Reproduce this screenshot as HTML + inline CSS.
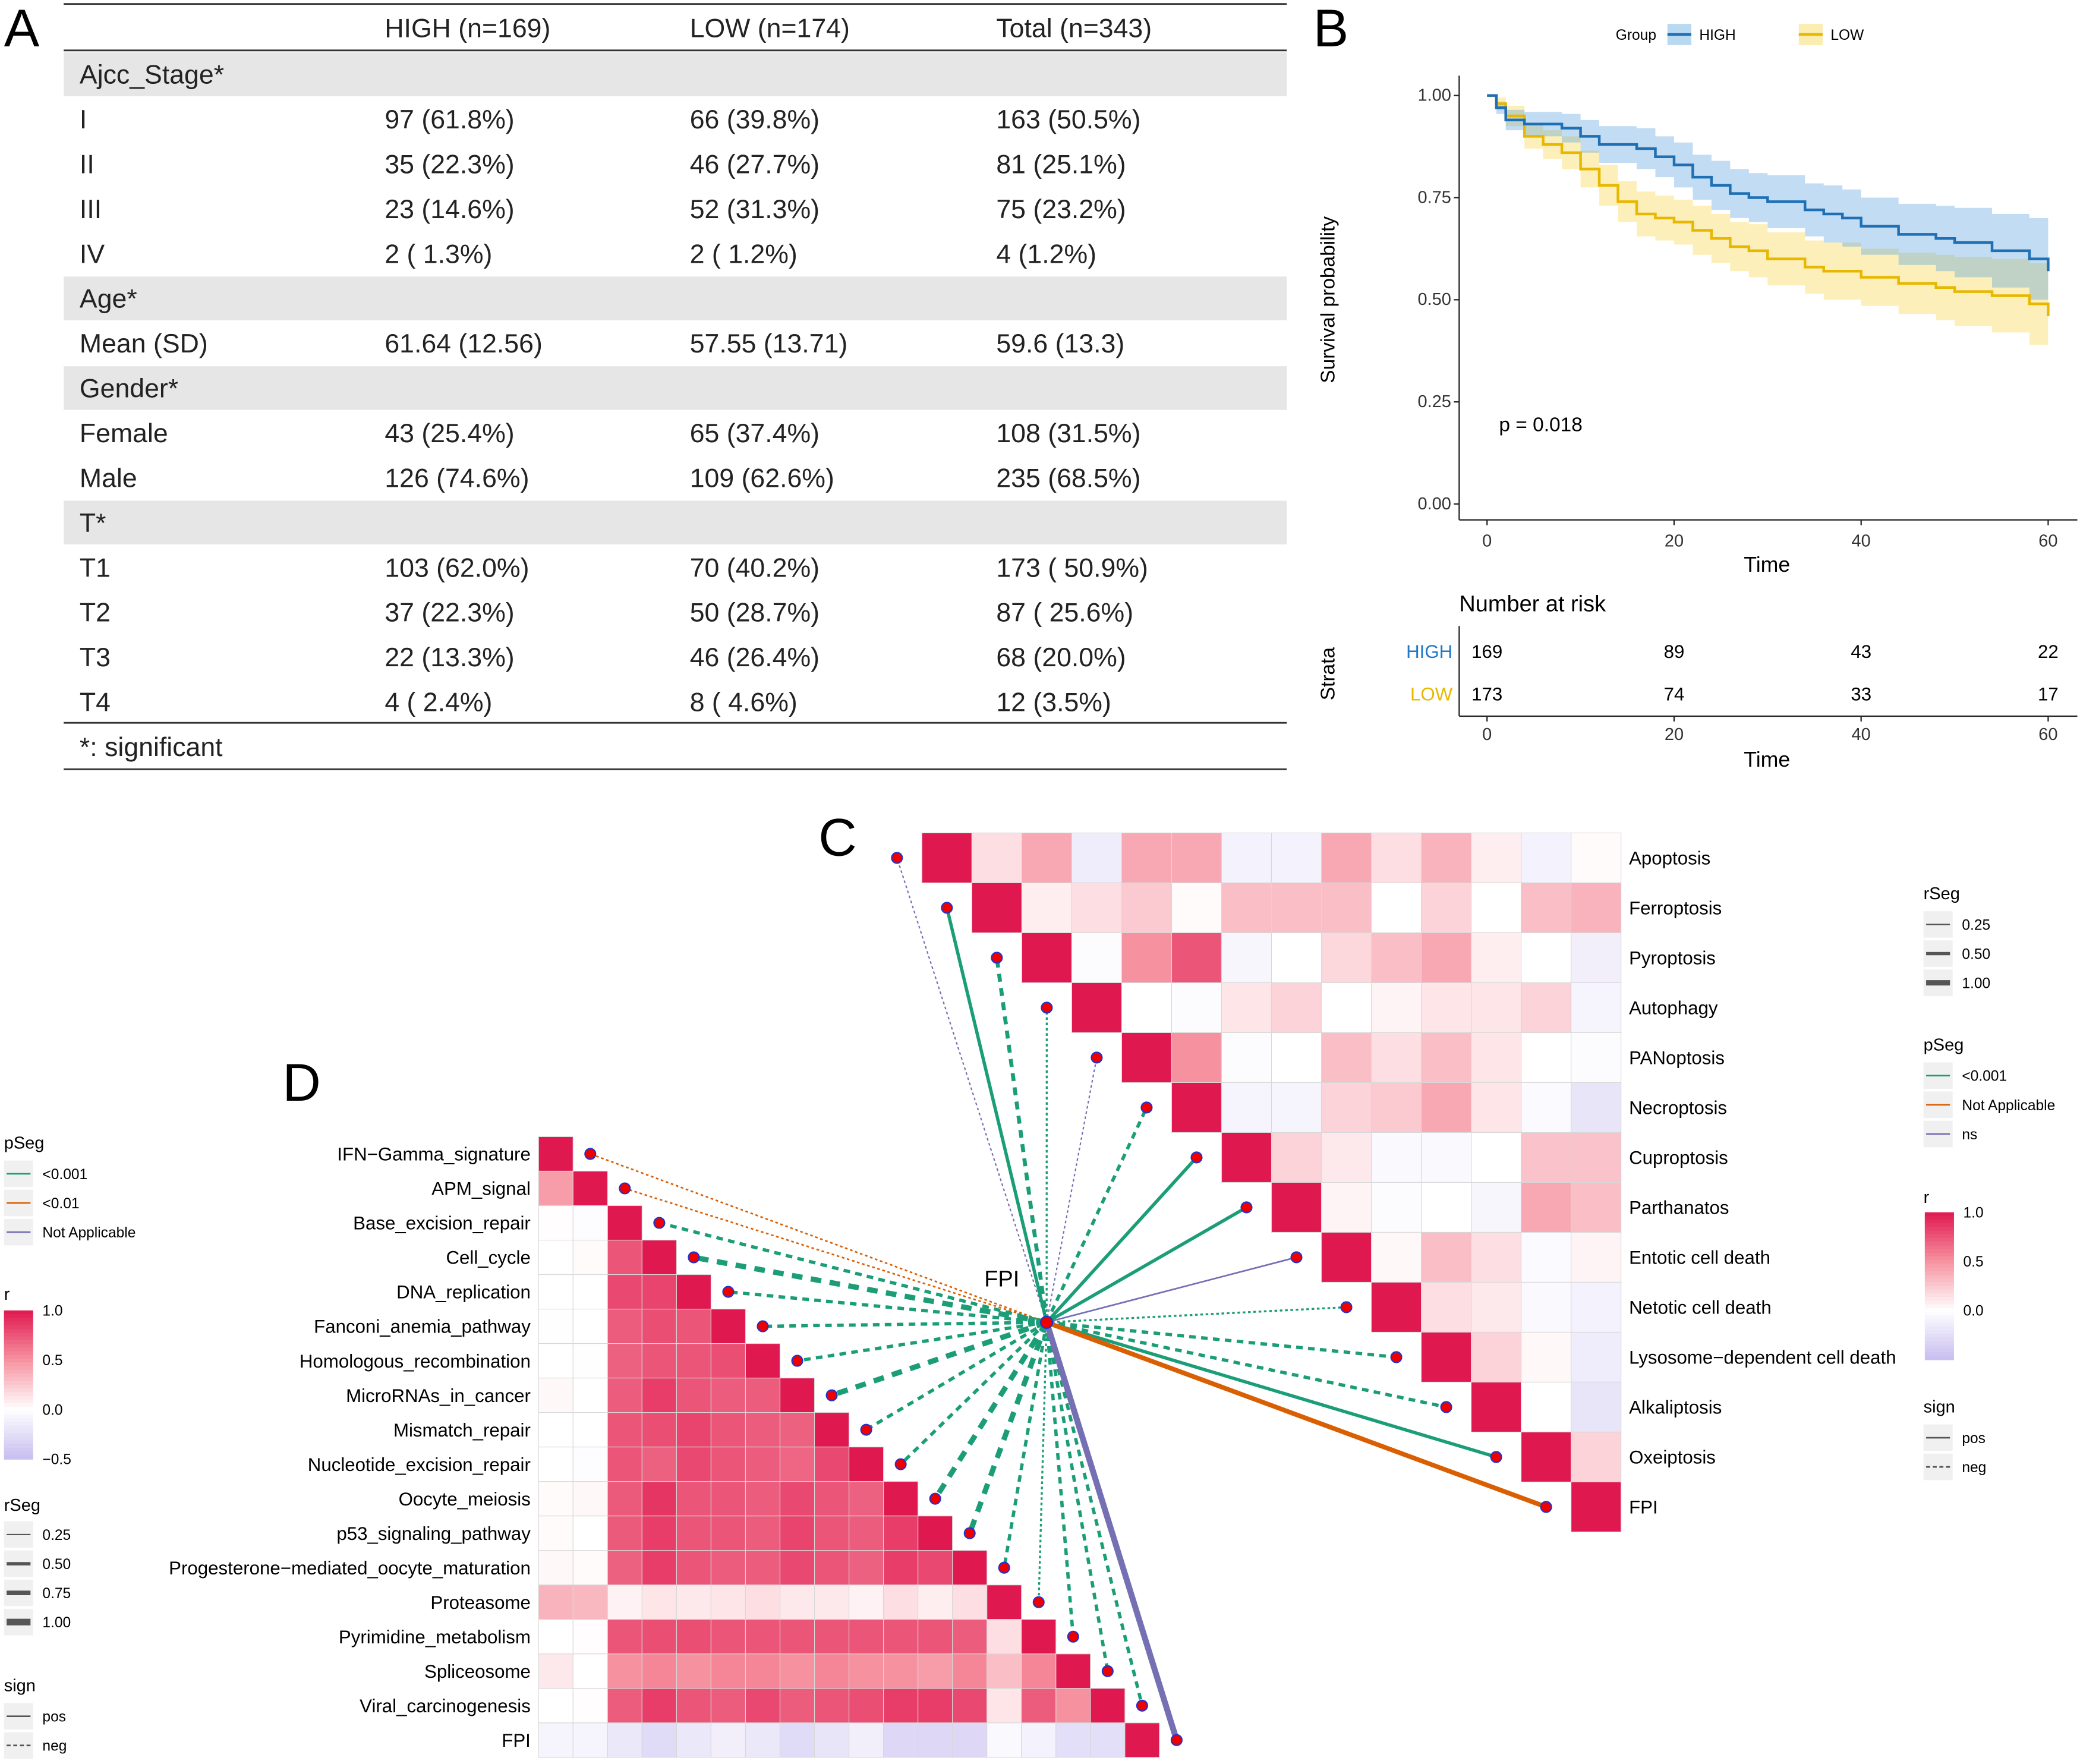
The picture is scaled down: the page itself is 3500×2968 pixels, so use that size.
<!DOCTYPE html>
<html><head><meta charset="utf-8">
<style>
html,body{margin:0;padding:0;background:#fff;}
svg{display:block;font-family:"Liberation Sans",Arial,sans-serif;}
</style></head>
<body>
<svg id="fig" xmlns="http://www.w3.org/2000/svg" width="3500" height="2968" viewBox="0 0 1568 1330" preserveAspectRatio="none">
<rect x="0" y="0" width="1568" height="1330" fill="#fff"/>
<g id="panelA"></g>
<g id="panelB"></g>
<g id="panelC"></g>
<g id="panelD"></g>
</svg>
<script>
// ---------- DATA ----------
const tableHeader = ["HIGH (n=169)","LOW (n=174)","Total (n=343)"];
const tableRows = [
 ["Ajcc_Stage*"],["I","97 (61.8%)","66 (39.8%)","163 (50.5%)"],["II","35 (22.3%)","46 (27.7%)","81 (25.1%)"],
 ["III","23 (14.6%)","52 (31.3%)","75 (23.2%)"],["IV","2 ( 1.3%)","2 ( 1.2%)","4 (1.2%)"],["Age*"],
 ["Mean (SD)","61.64 (12.56)","57.55 (13.71)","59.6 (13.3)"],["Gender*"],["Female","43 (25.4%)","65 (37.4%)","108 (31.5%)"],
 ["Male","126 (74.6%)","109 (62.6%)","235 (68.5%)"],["T*"],["T1","103 (62.0%)","70 (40.2%)","173 ( 50.9%)"],
 ["T2","37 (22.3%)","50 (28.7%)","87 ( 25.6%)"],["T3","22 (13.3%)","46 (26.4%)","68 (20.0%)"],["T4","4 ( 2.4%)","8 ( 4.6%)","12 (3.5%)"]
];
const kmTimes = [0,1,2,4,6,8,10,12,14,16,18,20,22,24,26,28,30,34,36,38,40,44,48,50,54,58,60];
const kmHigh  = [1,0.97,0.94,0.93,0.93,0.92,0.90,0.88,0.88,0.87,0.85,0.83,0.80,0.78,0.76,0.75,0.74,0.72,0.71,0.70,0.68,0.66,0.65,0.64,0.62,0.60,0.57];
const kmLow   = [1,0.98,0.95,0.90,0.88,0.86,0.82,0.78,0.74,0.71,0.70,0.69,0.67,0.65,0.63,0.62,0.60,0.58,0.57,0.57,0.555,0.54,0.53,0.52,0.51,0.49,0.46];
const ciHigh  = [0,0.015,0.025,0.03,0.03,0.035,0.04,0.045,0.045,0.05,0.05,0.055,0.055,0.06,0.06,0.06,0.065,0.065,0.07,0.07,0.07,0.075,0.08,0.085,0.09,0.1,0.11];
const ciLow   = [0,0.015,0.025,0.03,0.035,0.04,0.045,0.05,0.05,0.055,0.055,0.055,0.06,0.06,0.06,0.065,0.065,0.065,0.07,0.07,0.07,0.075,0.08,0.085,0.09,0.1,0.11];
const riskTimes = [0,20,40,60];
const riskHigh = [169,89,43,22];
const riskLow = [173,74,33,17];
const kmYTicks = [0,0.25,0.5,0.75,1];

const cLabels = ["Apoptosis","Ferroptosis","Pyroptosis","Autophagy","PANoptosis","Necroptosis","Cuproptosis","Parthanatos","Entotic cell death","Netotic cell death","Lysosome\u2212dependent cell death","Alkaliptosis","Oxeiptosis","FPI"];
const cMatrix = [
 [1,0.15,0.4,-0.15,0.4,0.4,-0.1,-0.1,0.4,0.15,0.35,0.08,-0.1,0.02],
 [1,0.08,0.15,0.25,0.02,0.3,0.3,0.3,0,0.2,0,0.3,0.35],
 [1,-0.03,0.5,0.75,-0.07,0,0.18,0.3,0.4,0.08,0,-0.12],
 [1,0,-0.03,0.12,0.2,0,0.05,0.12,0.12,0.2,-0.08],
 [1,0.5,-0.03,0,0.3,0.15,0.3,0.12,0,-0.03],
 [1,-0.08,-0.08,0.2,0.25,0.4,0.12,-0.04,-0.2],
 [1,0.2,0.1,-0.05,-0.05,0,0.28,0.28],
 [1,0.05,-0.03,0,-0.07,0.4,0.3],
 [1,0.03,0.3,0.15,-0.04,0.05],
 [1,0.15,0.1,-0.05,-0.1],
 [1,0.2,0.03,-0.15],
 [1,0,-0.2],
 [1,0.2],
 [1]
];
const cLinkP = ["ns","sig","sig","sig","ns","sig","sig","sig","ns","sig","sig","sig","sig","na"];
const cLinkW = [1,2.5,3,1.5,1,2.5,2.5,2.5,1.2,1.5,2.5,2.5,2.5,3.5];
const cLinkSign = ["neg","pos","neg","neg","neg","neg","pos","pos","pos","neg","neg","neg","pos","pos"];

const dLabels = ["IFN\u2212Gamma_signature","APM_signal","Base_excision_repair","Cell_cycle","DNA_replication","Fanconi_anemia_pathway","Homologous_recombination","MicroRNAs_in_cancer","Mismatch_repair","Nucleotide_excision_repair","Oocyte_meiosis","p53_signaling_pathway","Progesterone\u2212mediated_oocyte_maturation","Proteasome","Pyrimidine_metabolism","Spliceosome","Viral_carcinogenesis","FPI"];
const dMatrix = [
 [1],
 [0.45,1],
 [0.01,-0.02,1],
 [0,0.02,0.75,1],
 [0,0,0.8,0.82,1],
 [-0.01,0,0.72,0.78,0.75,1],
 [0,-0.01,0.7,0.75,0.75,0.78,1],
 [0.03,0,0.72,0.85,0.75,0.72,0.72,1],
 [0,0,0.75,0.78,0.82,0.75,0.72,0.7,1],
 [0,-0.02,0.75,0.7,0.8,0.75,0.72,0.68,0.8,1],
 [0.02,0.03,0.73,0.88,0.75,0.75,0.72,0.8,0.75,0.7,1],
 [0.02,0,0.73,0.85,0.75,0.75,0.72,0.82,0.75,0.72,0.85,1],
 [0.03,0.02,0.7,0.85,0.75,0.72,0.72,0.8,0.75,0.7,0.85,0.8,1],
 [0.35,0.33,0.06,0.12,0.1,0.12,0.15,0.1,0.1,0.06,0.15,0.08,0.15,1],
 [0,0.01,0.75,0.78,0.78,0.75,0.75,0.75,0.75,0.75,0.75,0.75,0.72,0.15,1],
 [0.1,0,0.5,0.55,0.5,0.55,0.55,0.5,0.55,0.5,0.5,0.45,0.55,0.3,0.55,1],
 [0,0.01,0.72,0.85,0.75,0.72,0.8,0.72,0.75,0.78,0.85,0.85,0.8,0.12,0.72,0.5,1],
 [-0.08,-0.08,-0.18,-0.28,-0.18,-0.12,-0.18,-0.28,-0.2,-0.12,-0.3,-0.3,-0.3,-0.05,-0.1,-0.25,-0.25,1]
];
const dLinkP = ["o","o","sig","sig","sig","sig","sig","sig","sig","sig","sig","sig","sig","sig","sig","sig","sig","na"];
const dLinkW = [1.2,1.2,2.5,4,2.5,2.5,2.5,4,2.5,2.5,4,4,2.5,1.5,2.5,2.5,2.5,4.5];
const dLinkSign = ["neg","neg","neg","neg","neg","neg","neg","neg","neg","neg","neg","neg","neg","neg","neg","neg","neg","pos"];

// ---------- HELPERS ----------
const NS="http://www.w3.org/2000/svg";
function mk(parent,tag,attrs,text){const e=document.createElementNS(NS,tag);for(const k in attrs)e.setAttribute(k,attrs[k]);if(text!==undefined)e.textContent=text;parent.appendChild(e);return e;}
function lerp(a,b,t){return a.map((v,i)=>Math.round(v+(b[i]-v)*t));}
function rColor(r){
  let c;
  if(r>=0.5){c=lerp([246,146,160],[224,24,80],Math.min((r-0.5)/0.5,1));}
  else if(r>=0){c=lerp([255,255,255],[246,146,160],r/0.5);}
  else {c=lerp([255,255,255],[200,190,240],Math.min(-r/0.5,1));}
  return `rgb(${c[0]},${c[1]},${c[2]})`;
}
const pColor={sig:"#1b9e77",o:"#d95f02",na:"#d95f02",ns:"#7570b3"};
const pColorD={sig:"#1b9e77",o:"#d95f02",na:"#7570b3",ns:"#7570b3"};

// ---------- PANEL A ----------
const A=document.getElementById('panelA');
let t=mk(A,'text',{x:3,y:35,'font-size':40},'A');

const colX=[60,290,520,751];
const rowY0=56, rowH=33.8;
tableHeader.forEach((h,i)=>{const e=mk(A,'text',{x:colX[i+1],y:28,'font-size':20,fill:'#222'},h);
 });
tableRows.forEach((row,i)=>{
  const y=rowY0+i*rowH;
  if(row.length===1){const b=mk(A,'rect',{x:48,y:y-16.5,width:922,height:33,fill:'#e6e6e6'});
   }
  row.forEach((c,j)=>{const e=mk(A,'text',{x:colX[j],y:y+7,'font-size':20,fill:'#222'},c);
   });
});
[3,38,545,580].forEach(y=>{const l=mk(A,'line',{x1:48,x2:970,y1:y,y2:y,stroke:'#333','stroke-width':1.3});
 });
t=mk(A,'text',{x:60,y:570,'font-size':20,fill:'#222'},'*: significant');


// ---------- PANEL B ----------
const B=document.getElementById('panelB');
t=mk(B,'text',{x:990,y:35,'font-size':40},'B');

const kx=v=>1121+v*(1544-1121)/60, ky=v=>380-v*308;
function stepPath(vals){let d=`M${kx(kmTimes[0])},${ky(vals[0])}`;for(let i=1;i<kmTimes.length;i++){d+=`H${kx(kmTimes[i])}V${ky(vals[i])}`;}return d;}
function bandPath(vals,ci){let up=[],lo=[];for(let i=0;i<kmTimes.length;i++){const x0=kx(kmTimes[i]),x1=i<kmTimes.length-1?kx(kmTimes[i+1]):kx(kmTimes[i]);
 up.push(`${x0},${ky(Math.min(1,vals[i]+ci[i]))}`,`${x1},${ky(Math.min(1,vals[i]+ci[i]))}`);lo.push(`${x0},${ky(vals[i]-ci[i])}`,`${x1},${ky(vals[i]-ci[i])}`);}
 return 'M'+up.join('L')+'L'+lo.reverse().join('L')+'Z';}
let p=mk(B,'path',{d:bandPath(kmLow,ciLow),fill:'#f5d03a','fill-opacity':0.35});

p=mk(B,'path',{d:bandPath(kmHigh,ciHigh),fill:'#4f9fdc','fill-opacity':0.35});

p=mk(B,'path',{d:stepPath(kmLow),fill:'none',stroke:'#e8b800','stroke-width':2});

p=mk(B,'path',{d:stepPath(kmHigh),fill:'none',stroke:'#1f6fb5','stroke-width':2});

let l=mk(B,'line',{x1:1100,x2:1100,y1:57,y2:392,stroke:'#222','stroke-width':1});

l=mk(B,'line',{x1:1100,x2:1566,y1:392,y2:392,stroke:'#222','stroke-width':1});

kmYTicks.forEach(v=>{mk(B,'line',{x1:1096,x2:1100,y1:ky(v),y2:ky(v),stroke:'#222'});
 const e=mk(B,'text',{x:1094,y:ky(v)+4,'font-size':13,'text-anchor':'end',fill:'#333'},v.toFixed(2));
 });
riskTimes.forEach(v=>{mk(B,'line',{x1:kx(v),x2:kx(v),y1:392,y2:396,stroke:'#222'});
 const e=mk(B,'text',{x:kx(v),y:412,'font-size':13,'text-anchor':'middle',fill:'#333'},v);
 });
t=mk(B,'text',{x:1332,y:431,'font-size':16,'text-anchor':'middle'},'Time');
t=mk(B,'text',{x:0,y:0,'font-size':15,'text-anchor':'middle',transform:'translate(1006,226) rotate(-90)'},'Survival probability');
t=mk(B,'text',{x:1130,y:325,'font-size':15},'p = 0.018');
t=mk(B,'text',{x:1218,y:30,'font-size':11},'Group');
let g=mk(B,'g',{});
mk(g,'rect',{x:1257,y:18,width:18,height:16,fill:'#4f9fdc','fill-opacity':0.4});mk(g,'line',{x1:1257,x2:1275,y1:26,y2:26,stroke:'#1f6fb5','stroke-width':2});mk(g,'text',{x:1281,y:30,'font-size':11},'HIGH');
g=mk(B,'g',{});
mk(g,'rect',{x:1356,y:18,width:18,height:16,fill:'#f5d03a','fill-opacity':0.4});mk(g,'line',{x1:1356,x2:1374,y1:26,y2:26,stroke:'#e8b800','stroke-width':2});mk(g,'text',{x:1380,y:30,'font-size':11},'LOW');
t=mk(B,'text',{x:1100,y:461,'font-size':17},'Number at risk');
mk(B,'line',{x1:1100,x2:1100,y1:472,y2:540,stroke:'#222'});mk(B,'line',{x1:1100,x2:1566,y1:540,y2:540,stroke:'#222'});
t=mk(B,'text',{x:1095,y:496,'font-size':14,'text-anchor':'end',fill:'#1f78c8'},'HIGH');
t=mk(B,'text',{x:1095,y:528,'font-size':14,'text-anchor':'end',fill:'#e8b800'},'LOW');
riskTimes.forEach((v,i)=>{
 let e=mk(B,'text',{x:kx(v),y:496,'font-size':14,'text-anchor':'middle'},riskHigh[i]);
 e=mk(B,'text',{x:kx(v),y:528,'font-size':14,'text-anchor':'middle'},riskLow[i]);
 mk(B,'line',{x1:kx(v),x2:kx(v),y1:540,y2:544,stroke:'#222'});
 e=mk(B,'text',{x:kx(v),y:558,'font-size':13,'text-anchor':'middle',fill:'#333'},v);
});
t=mk(B,'text',{x:1332,y:578,'font-size':16,'text-anchor':'middle'},'Time');
t=mk(B,'text',{x:0,y:0,'font-size':15,'text-anchor':'middle',transform:'translate(1006,508) rotate(-90)'},'Strata');

const hub={x:789,y:997};
function dash(sign,w){return sign==='neg'?(w>=2?`${w*2},${w*1.6}`:'2,2'):'none';}

// ---------- PANEL C ----------
const C=document.getElementById('panelC');
t=mk(C,'text',{x:617,y:645,'font-size':40},'C');
const cX0=695,cY0=628,cS=(1222-695)/14;
cMatrix.forEach((row,i)=>row.forEach((v,k)=>{const j=i+k;
 const r=mk(C,'rect',{x:cX0+j*cS,y:cY0+i*cS,width:cS,height:cS,fill:rColor(v),stroke:'#d8d8d8','stroke-width':0.5});
 }));
cLabels.forEach((lab,i)=>{const e=mk(C,'text',{x:1228,y:cY0+(i+0.5)*cS+5,'font-size':14},lab);
 });
const cLinkG=mk(C,'g',{});
cLabels.forEach((lab,i)=>{const px=cX0+(i-0.5)*cS, py=cY0+(i+0.5)*cS;
 const ln=mk(cLinkG,'line',{x1:hub.x,y1:hub.y,x2:px,y2:py,stroke:pColor[cLinkP[i]],'stroke-width':cLinkW[i],'stroke-dasharray':dash(cLinkSign[i],cLinkW[i])});
 
 const c=mk(cLinkG,'circle',{cx:px,cy:py,r:4,fill:'#ee0000',stroke:'#2233cc','stroke-width':1});
 });

// ---------- PANEL D ----------
const D=document.getElementById('panelD');
t=mk(D,'text',{x:213,y:830,'font-size':40},'D');
const dX0=406,dY0=857,dS=26;
dMatrix.forEach((row,i)=>row.forEach((v,j)=>{
 const r=mk(D,'rect',{x:dX0+j*dS,y:dY0+i*dS,width:dS,height:dS,fill:rColor(v),stroke:'#d8d8d8','stroke-width':0.5});
 }));
dLabels.forEach((lab,i)=>{const e=mk(D,'text',{x:400,y:dY0+(i+0.5)*dS+5,'font-size':14,'text-anchor':'end'},lab);
 });
const dLinkG=mk(D,'g',{});
dLabels.forEach((lab,i)=>{const px=dX0+(i+1.5)*dS, py=dY0+(i+0.5)*dS;
 const ln=mk(dLinkG,'line',{x1:hub.x,y1:hub.y,x2:px,y2:py,stroke:pColorD[dLinkP[i]],'stroke-width':dLinkW[i],'stroke-dasharray':dash(dLinkSign[i],dLinkW[i]>1.3?dLinkW[i]:1)});
 
 const c=mk(dLinkG,'circle',{cx:px,cy:py,r:4,fill:'#ee0000',stroke:'#2233cc','stroke-width':1});
 });
let hc=mk(D,'circle',{cx:hub.x,cy:hub.y,r:4.5,fill:'#ee0000',stroke:'#2233cc','stroke-width':1});

t=mk(D,'text',{x:742,y:970,'font-size':17},'FPI');

// ---------- LEGENDS ----------
function legend(parent,x,items,name){
 const g=mk(parent,'g',{});
 items.forEach(it=>{
  if(it.title){mk(g,'text',{x:x,y:it.y,'font-size':13},it.title);return;}
  mk(g,'rect',{x:x,y:it.y-10,width:22,height:20,fill:'#f0f0f0'});
  mk(g,'line',{x1:x+2,x2:x+20,y1:it.y,y2:it.y,stroke:it.c||'#555','stroke-width':it.w||1.2,'stroke-dasharray':it.d||'none'});
  mk(g,'text',{x:x+29,y:it.y+4,'font-size':11},it.t);
 });
 return g;
}
function colorbar(parent,x,y0,y1,ticks,name){
 const g=mk(parent,'g',{});
 const n=40;const vmax=1,vmin=-0.5;
 for(let i=0;i<n;i++){const v=vmax-(vmax-vmin)*(i+0.5)/n;mk(g,'rect',{x:x,y:y0+(y1-y0)*i/n,width:22,height:(y1-y0)/n+0.5,fill:rColor(v)});}
 ticks.forEach(tk=>{const yy=y0+(vmax-tk)/(vmax-vmin)*(y1-y0);mk(g,'text',{x:x+29,y:yy+4,'font-size':11},tk===-0.5?'\u22120.5':tk.toFixed(1));});
}
legend(C,1450,[{title:'rSeg',y:678},{y:697,t:'0.25',w:1},{y:719,t:'0.50',w:2.5},{y:741,t:'1.00',w:4},
 {title:'pSeg',y:792},{y:811,t:'<0.001',c:pColor.sig},{y:833,t:'Not Applicable',c:pColor.na},{y:855,t:'ns',c:pColor.ns},
 {title:'r',y:907},{title:'sign',y:1065},{y:1084,t:'pos'},{y:1106,t:'neg',d:'3,2'}],'c-legend');
colorbar(C,1451,914,1025,[1,0.5,0],'c-colorbar');
legend(D,3,[{title:'pSeg',y:866},{y:885,t:'<0.001',c:pColorD.sig},{y:907,t:'<0.01',c:pColorD.o},{y:929,t:'Not Applicable',c:pColorD.na},
 {title:'r',y:980},{title:'rSeg',y:1139},{y:1157,t:'0.25',w:1},{y:1179,t:'0.50',w:2.5},{y:1201,t:'0.75',w:3.5},{y:1223,t:'1.00',w:5},
 {title:'sign',y:1275},{y:1294,t:'pos'},{y:1316,t:'neg',d:'3,2'}],'d-legend');
colorbar(D,3,988,1100,[1,0.5,0,-0.5],'d-colorbar');
</script>
</body></html>
